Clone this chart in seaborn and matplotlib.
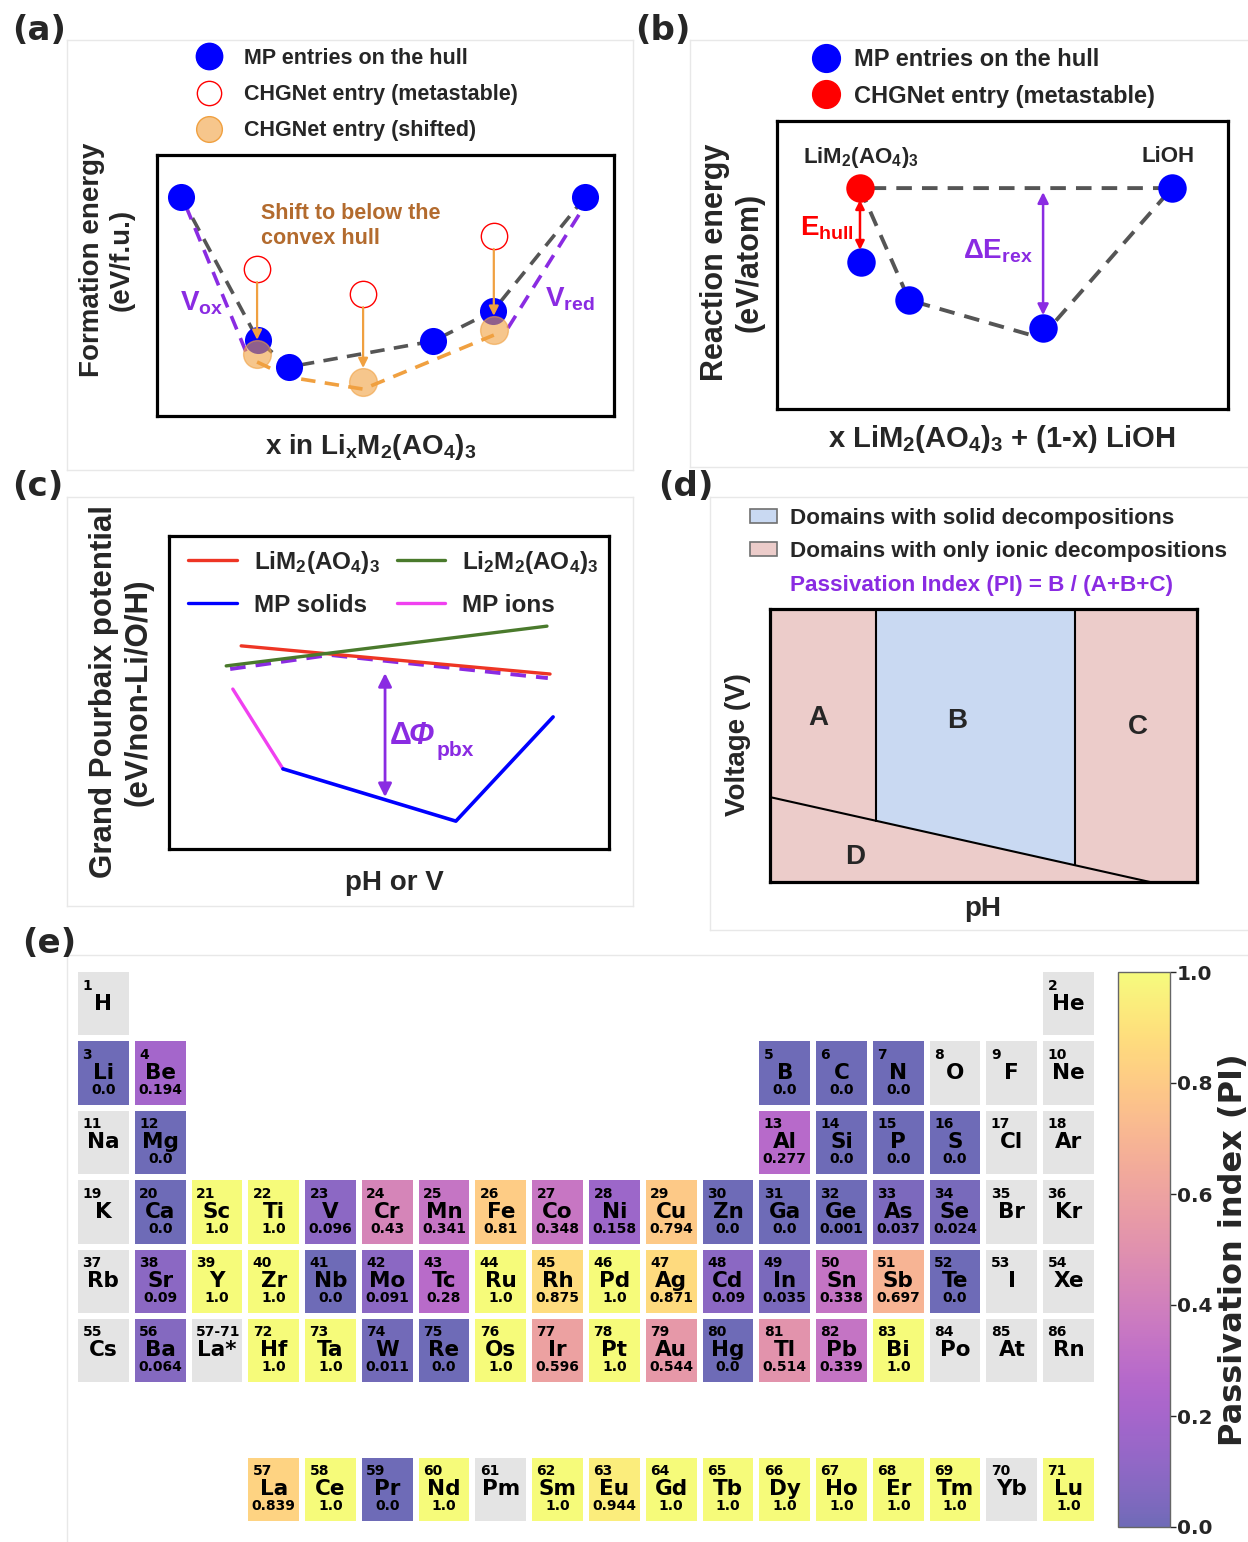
import numpy as np
import pandas as pd
import matplotlib
matplotlib.use("Agg")
import matplotlib.pyplot as plt
from matplotlib.colors import ListedColormap
from matplotlib.lines import Line2D
from matplotlib.patches import Patch
import seaborn as sns

# ---------------- data: panel (a) formation-energy schematic ----------------
a_hull_x = [0.53, 2.21, 2.89, 6.04, 7.35, 9.37]
a_hull_y = [8.39, 2.91, 1.88, 2.87, 4.02, 8.39]
a_meta_x = [2.19, 4.51, 7.37]
a_meta_y = [5.63, 4.67, 6.90]
a_shift_y = [2.38, 1.30, 3.30]
a_newhull_x = [2.19, 2.89, 4.51, 7.37]
a_newhull_y = [2.07, 1.49, 1.03, 3.10]
a_vox_x, a_vox_y = [0.63, 1.95], [8.05, 2.45]
a_vred_x, a_vred_y = [7.68, 9.34], [3.37, 8.01]

# ---------------- data: panel (b) reaction-energy schematic ----------------
b_mp_x = [8.76, 1.86, 2.93, 5.90]
b_mp_y = [7.67, 5.10, 3.78, 2.81]
b_meta_x, b_meta_y = [1.84], [7.67]
b_hull_x = [1.84, 2.93, 5.85, 8.76, 1.84]
b_hull_y = [7.67, 3.78, 2.47, 7.67, 7.67]

# ---------------- data: panel (c) grand Pourbaix schematic ----------------
c_red_x, c_red_y = [1.64, 8.66], [6.49, 5.59]
c_green_x, c_green_y = [1.30, 8.59], [5.85, 7.12]
c_env_x, c_env_y = [1.39, 3.66, 8.61], [5.75, 6.20, 5.46]
c_ion_x, c_ion_y = [1.45, 2.59], [5.11, 2.56]
c_sol_x, c_sol_y = [2.59, 6.52, 8.73], [2.56, 0.89, 4.22]

# ---------------- data: panel (d) domains ----------------
d_ab, d_bc = 2.48, 7.14
d_line_x, d_line_y = [0.0, 8.90], [3.11, 0.0]

# ---------------- data: panel (e) passivation index ----------------
symbols = ["H", "He", "Li", "Be", "B", "C", "N", "O", "F", "Ne",
           "Na", "Mg", "Al", "Si", "P", "S", "Cl", "Ar",
           "K", "Ca", "Sc", "Ti", "V", "Cr", "Mn", "Fe", "Co", "Ni", "Cu", "Zn",
           "Ga", "Ge", "As", "Se", "Br", "Kr",
           "Rb", "Sr", "Y", "Zr", "Nb", "Mo", "Tc", "Ru", "Rh", "Pd", "Ag", "Cd",
           "In", "Sn", "Sb", "Te", "I", "Xe",
           "Cs", "Ba", "La", "Ce", "Pr", "Nd", "Pm", "Sm", "Eu", "Gd", "Tb", "Dy",
           "Ho", "Er", "Tm", "Yb", "Lu", "Hf", "Ta", "W", "Re", "Os", "Ir", "Pt",
           "Au", "Hg", "Tl", "Pb", "Bi", "Po", "At", "Rn"]
pi_values = [None, None, 0.0, 0.194, 0.0, 0.0, 0.0, None, None, None,
             None, 0.0, 0.277, 0.0, 0.0, 0.0, None, None,
             None, 0.0, 1.0, 1.0, 0.096, 0.43, 0.341, 0.81, 0.348, 0.158, 0.794, 0.0,
             0.0, 0.001, 0.037, 0.024, None, None,
             None, 0.09, 1.0, 1.0, 0.0, 0.091, 0.28, 1.0, 0.875, 1.0, 0.871, 0.09,
             0.035, 0.338, 0.697, 0.0, None, None,
             None, 0.064, 0.839, 1.0, 0.0, 1.0, None, 1.0, 0.944, 1.0, 1.0, 1.0,
             1.0, 1.0, 1.0, None, 1.0, 1.0, 1.0, 0.011, 0.0, 1.0, 0.596, 1.0,
             0.544, 0.0, 0.514, 0.339, 1.0, None, None, None]
atomic_numbers = list(range(1, 87))
cbar_ticks = [0.0, 0.2, 0.4, 0.6, 0.8, 1.0]


def table_position(z):
    """(period row, group column) in the standard table layout."""
    if z == 1:
        return 0, 0
    if z == 2:
        return 0, 17
    if z <= 4:
        return 1, z - 3
    if z <= 10:
        return 1, z - 5 + 12
    if z <= 12:
        return 2, z - 11
    if z <= 18:
        return 2, z - 13 + 12
    if z <= 36:
        return 3, z - 19
    if z <= 54:
        return 4, z - 37
    if z <= 56:
        return 5, z - 55
    if z <= 71:
        return 7, z - 57 + 3
    return 5, z - 72 + 3


# ---------------- style ----------------
sns.set_style("white")
plt.rcParams["font.family"] = ["Liberation Sans", "DejaVu Sans"]
plt.rcParams["font.weight"] = "bold"
plt.rcParams["mathtext.fontset"] = "custom"
plt.rcParams["mathtext.rm"] = "Liberation Sans:bold"
plt.rcParams["mathtext.bf"] = "Liberation Sans:bold"
plt.rcParams["mathtext.sf"] = "Liberation Sans:bold"
plt.rcParams["mathtext.it"] = "Liberation Sans:italic:bold"
plt.rcParams["mathtext.default"] = "rm"

BLUE = "#0000FF"
RED = "#FF0000"
ORANGE = "#F0A040"
PURPLE = "#8A2BE2"
GRAY = "#555555"
PINK = "#ECCCCA"
LBLUE = "#C9D9F2"
DASH = (0, (4, 2.6))

# plasma seen through 60 % opacity on white
_pl = plt.get_cmap("plasma")(np.linspace(0, 1, 256))[:, :3]
PI_CMAP = ListedColormap(0.6 * _pl + 0.4)

W, H = 1248, 1542
fig = plt.figure(figsize=(W / 100, H / 100), dpi=100)


def add_ax(x0, y0, x1, y1, **kw):
    return fig.add_axes([x0 / W, 1 - y1 / H, (x1 - x0) / W, (y1 - y0) / H], **kw)


def ftext(x, y, s, **kw):
    return fig.text(x / W, 1 - y / H, s, **kw)


def fxy(x, y):
    return (x / W, 1 - y / H)


def frame(x0, y0, x1, y1, sides=("top", "bottom", "left", "right")):
    f = add_ax(x0, y0, x1, y1, zorder=-5)
    f.set_xticks([]); f.set_yticks([])
    f.patch.set_alpha(0)
    for k, s in f.spines.items():
        s.set_visible(k in sides)
        s.set_color("#e8e8e8")
        s.set_linewidth(1.0)
    return f


def box(ax):
    ax.set_xlim(0, 10); ax.set_ylim(0, 10)
    ax.set_xticks([]); ax.set_yticks([])
    for s in ax.spines.values():
        s.set_visible(True)
        s.set_color("black")
        s.set_linewidth(2.3)


def line(ax, x, y, **kw):
    sns.lineplot(x=x, y=y, sort=False, estimator=None, ax=ax, **kw)


# faint panel frames
frame(67, 40, 633, 470)
frame(690, 40, 1252, 467, sides=("top", "bottom", "left"))
frame(67, 497, 633, 906)
frame(710, 497, 1252, 930, sides=("top", "bottom", "left"))
frame(67, 955, 1252, 1546, sides=("top", "left"))

# panel letters
for lab, (x, y) in {"(a)": (12, 30), "(b)": (635, 30), "(c)": (12, 487),
                    "(d)": (658, 487), "(e)": (22, 943)}.items():
    ftext(x, y, lab, fontsize=24.5, fontweight="bold", family="DejaVu Sans",
          ha="left", va="center")

# ======================= (a) =======================
axa = add_ax(157, 155, 614, 416)
box(axa)
line(axa, a_hull_x, a_hull_y, color=GRAY, lw=2.6, linestyle=DASH, zorder=2)
line(axa, a_vox_x, a_vox_y, color=PURPLE, lw=2.6, linestyle=DASH, zorder=2)
line(axa, a_vred_x, a_vred_y, color=PURPLE, lw=2.6, linestyle=DASH, zorder=2)
line(axa, a_newhull_x, a_newhull_y, color=ORANGE, lw=2.6, linestyle=DASH, zorder=2)
sns.scatterplot(x=a_hull_x, y=a_hull_y, s=380, color=BLUE, edgecolor=BLUE,
                linewidth=0, zorder=4, ax=axa, legend=False)
sns.scatterplot(x=a_meta_x, y=a_meta_y, s=360, color="white", edgecolor=RED,
                linewidth=1.0, zorder=4, ax=axa, legend=False)
sns.scatterplot(x=a_meta_x, y=a_shift_y, s=400, color=ORANGE, edgecolor=ORANGE,
                alpha=0.6, linewidth=1.0, zorder=5, ax=axa, legend=False)
for x, y0, y1 in zip(a_meta_x, a_meta_y, a_shift_y):
    axa.annotate("", xy=(x, y1 + 0.54), xytext=(x, y0 - 0.50),
                 arrowprops=dict(arrowstyle="-|>", color=ORANGE, lw=1.6,
                                 mutation_scale=14, shrinkA=0, shrinkB=0), zorder=6)
axa.text(2.28, 8.16, "Shift to below the\nconvex hull", color="#B36B2E",
         fontsize=15.5, fontweight="bold", ha="left", va="top", linespacing=1.25)
axa.text(0.50, 4.06, r"V$_{ox}$", color=PURPLE, fontsize=20, ha="left", va="baseline")
axa.text(8.49, 4.21, r"V$_{red}$", color=PURPLE, fontsize=20, ha="left", va="baseline")
ha = [Line2D([], [], marker="o", ls="none", markersize=19, mfc=BLUE, mec=BLUE),
      Line2D([], [], marker="o", ls="none", markersize=17.5, mfc="white", mec=RED, mew=1),
      Line2D([], [], marker="o", ls="none", markersize=18.5, mfc=(0.94, 0.63, 0.25, 0.6),
             mec=ORANGE, mew=1)]
axa.legend(ha, ["MP entries on the hull", "CHGNet entry (metastable)",
                "CHGNet entry (shifted)"],
           loc="upper left", bbox_to_anchor=fxy(194, 48), bbox_transform=fig.transFigure,
           frameon=False, borderpad=0, borderaxespad=0, handlelength=1.4,
           handletextpad=0.93, labelspacing=0.7,
           prop={"size": 15.5, "weight": "bold", "family": "Liberation Sans"})
ftext(371, 454, r"x in Li$_{x}$M$_{2}$(AO$_{4}$)$_{3}$", fontsize=20, ha="center",
      va="baseline")
ftext(107, 260, "Formation energy\n(eV/f.u.)", fontsize=20, rotation=90,
      ha="center", va="center", multialignment="center")

# ======================= (b) =======================
axb = add_ax(777, 121, 1228, 409)
box(axb)
line(axb, b_hull_x, b_hull_y, color=GRAY, lw=2.8, linestyle=DASH, zorder=2)
sns.scatterplot(x=b_mp_x, y=b_mp_y, s=420, color=BLUE, edgecolor=BLUE,
                linewidth=0, zorder=4, ax=axb, legend=False)
sns.scatterplot(x=b_meta_x, y=b_meta_y, s=420, color=RED, edgecolor=RED,
                linewidth=0, zorder=4, ax=axb, legend=False)
axb.annotate("", xy=(1.84, 5.52), xytext=(1.84, 7.26),
             arrowprops=dict(arrowstyle="<|-|>", color=RED, lw=1.8, mutation_scale=13,
                             shrinkA=0, shrinkB=0), zorder=5)
axb.annotate("", xy=(5.90, 3.26), xytext=(5.90, 7.53),
             arrowprops=dict(arrowstyle="<|-|>", color=PURPLE, lw=1.8, mutation_scale=16,
                             shrinkA=0, shrinkB=0), zorder=5)
axb.text(0.51, 6.01, r"E$_{hull}$", color=RED, fontsize=20, ha="left", va="baseline")
axb.text(4.12, 5.21, r"ΔE$_{rex}$", color=PURPLE, fontsize=20, ha="left", va="baseline")
axb.text(0.58, 8.54, r"LiM$_{2}$(AO$_{4}$)$_{3}$", fontsize=16, ha="left", va="baseline")
axb.text(8.09, 8.58, "LiOH", fontsize=16, ha="left", va="baseline")
hb = [Line2D([], [], marker="o", ls="none", markersize=20, mfc=BLUE, mec=BLUE),
      Line2D([], [], marker="o", ls="none", markersize=20, mfc=RED, mec=RED)]
axb.legend(hb, ["MP entries on the hull", "CHGNet entry (metastable)"],
           loc="upper left", bbox_to_anchor=fxy(812, 48), bbox_transform=fig.transFigure,
           frameon=False, borderpad=0, borderaxespad=0, handlelength=1.2,
           handletextpad=0.6, labelspacing=0.58,
           prop={"size": 17, "weight": "bold", "family": "Liberation Sans"})
ftext(1002, 447, r"x LiM$_{2}$(AO$_{4}$)$_{3}$ + (1-x) LiOH", fontsize=21,
      ha="center", va="baseline")
ftext(732, 262, "Reaction energy\n(eV/atom)", fontsize=22, rotation=90,
      ha="center", va="center", multialignment="center")

# ======================= (c) =======================
axc = add_ax(169, 536, 609, 849)
box(axc)
line(axc, c_red_x, c_red_y, color="#EE3524", lw=2.4, zorder=3)
line(axc, c_green_x, c_green_y, color="#4A7A2C", lw=2.4, zorder=3)
line(axc, c_env_x, c_env_y, color=PURPLE, lw=2.8, linestyle=DASH, zorder=2)
line(axc, c_ion_x, c_ion_y, color="#F040F0", lw=2.4, zorder=3)
line(axc, c_sol_x, c_sol_y, color=BLUE, lw=2.6, zorder=3)
axc.annotate("", xy=(4.91, 1.66), xytext=(4.91, 5.62),
             arrowprops=dict(arrowstyle="<|-|>", color=PURPLE, lw=2.0, mutation_scale=20,
                             shrinkA=0, shrinkB=0), zorder=5)
ftext(390, 744, "Δ", color=PURPLE, fontsize=22, ha="left", va="baseline")
ftext(409, 744, "Φ", color=PURPLE, fontsize=22, ha="left", va="baseline",
      style="italic")
ftext(437, 756, "pbx", color=PURPLE, fontsize=15, ha="left", va="baseline")
hc = [Line2D([], [], color="#EE3524", lw=2.4), Line2D([], [], color=BLUE, lw=2.4),
      Line2D([], [], color="#4A7A2C", lw=2.4), Line2D([], [], color="#F040F0", lw=2.4)]
axc.legend(hc, [r"LiM$_{2}$(AO$_{4}$)$_{3}$", "MP solids",
                r"Li$_{2}$M$_{2}$(AO$_{4}$)$_{3}$", "MP ions"], ncol=2,
           loc="upper left", bbox_to_anchor=fxy(188, 549), bbox_transform=fig.transFigure,
           frameon=False, borderpad=0, borderaxespad=0, handlelength=2.0,
           handletextpad=0.7, labelspacing=0.72, columnspacing=0.7,
           prop={"size": 17.5, "weight": "bold", "family": "Liberation Sans"})
ftext(394, 890, "pH or V", fontsize=20, ha="center", va="baseline")
ftext(121, 692, "Grand Pourbaix potential\n(eV/non-Li/O/H)", fontsize=22.5,
      rotation=90, ha="center", va="center", multialignment="center")

# ======================= (d) =======================
axd = add_ax(770, 609, 1197, 882)
box(axd)
axd.fill_between([0, 10], 0, 10, color=PINK, lw=0, zorder=0)
bx = np.array([d_ab, d_bc])
by = np.interp(bx, d_line_x, d_line_y)
axd.fill_between(bx, by, 10, color=LBLUE, lw=0, zorder=1)
line(axd, d_line_x, d_line_y, color="black", lw=1.5, zorder=3)
line(axd, [d_ab, d_ab], [by[0], 10], color="black", lw=1.5, zorder=3)
line(axd, [d_bc, d_bc], [by[1], 10], color="black", lw=1.5, zorder=3)
for s, (x, y) in {"A": (1.12, 6.01), "B": (4.38, 5.90), "C": (8.62, 5.68),
                  "D": (1.99, 0.92)}.items():
    axd.text(x, y, s, fontsize=20, ha="center", va="center")
hd = [Patch(facecolor=LBLUE, edgecolor="#707070", lw=1.2),
      Patch(facecolor=PINK, edgecolor="#707070", lw=1.2)]
axd.legend(hd, ["Domains with solid decompositions",
                "Domains with only ionic decompositions"],
           loc="upper left", bbox_to_anchor=fxy(750, 508), bbox_transform=fig.transFigure,
           frameon=False, borderpad=0, borderaxespad=0, handlelength=1.2,
           handleheight=0.55, handletextpad=0.58, labelspacing=0.52,
           prop={"size": 16.2, "weight": "bold", "family": "Liberation Sans"})
ftext(790, 586, "Passivation Index (PI) = B / (A+B+C)", color=PURPLE, fontsize=16.2,
      ha="left", va="center")
ftext(983, 909, "pH", fontsize=20, ha="center", va="center")
ftext(738, 745, "Voltage (V)", fontsize=20, rotation=90, ha="center", va="center")

# ======================= (e) =======================
grid_val = np.full((8, 18), np.nan)
grid_gray = np.full((8, 18), np.nan)
for z, v in zip(atomic_numbers, pi_values):
    r, c = table_position(z)
    if v is None:
        grid_gray[r, c] = 1.0
    else:
        grid_val[r, c] = v
grid_gray[5, 2] = 1.0  # La* placeholder

axe = add_ax(75, 969, 1097, 1524)
cax = add_ax(1118, 972, 1170, 1527)
sns.heatmap(grid_gray, mask=np.isnan(grid_gray), cmap=ListedColormap(["#e4e4e4"]),
            vmin=0, vmax=2, cbar=False, linewidths=4.3, linecolor="white",
            xticklabels=False, yticklabels=False, ax=axe)
sns.heatmap(grid_val, mask=np.isnan(grid_val), cmap=PI_CMAP, vmin=0, vmax=1,
            linewidths=4.3, linecolor="white", xticklabels=False,
            yticklabels=False, ax=axe, cbar_ax=cax, cbar_kws={"ticks": cbar_ticks})
for s in axe.spines.values():
    s.set_visible(False)

tfont = dict(family="DejaVu Sans", fontweight="bold", color="black")
entries = list(zip(atomic_numbers, symbols, pi_values)) + [("57-71", "La*", None)]
for z, sym, v in entries:
    r, c = (5, 2) if z == "57-71" else table_position(z)
    axe.text(c + 0.13, r + 0.297, str(z), ha="left", va="baseline", fontsize=10, **tfont)
    axe.text(c + 0.5, r + 0.585, sym, ha="center", va="baseline", fontsize=15.5, **tfont)
    if v is not None:
        axe.text(c + 0.5, r + 0.80, str(v), ha="center", va="baseline", fontsize=10,
                 **tfont)

cb = axe.collections[-1].colorbar
cb.outline.set_linewidth(1.0)
cb.outline.set_edgecolor("#666666")
cax.tick_params(length=4, width=1, labelsize=14.5, pad=1)
cax.set_yticklabels([f"{t:.1f}" for t in cbar_ticks], fontweight="bold",
                    family="DejaVu Sans")
cax.set_ylabel("Passivation index (PI)", fontsize=23, fontweight="bold",
               family="DejaVu Sans", labelpad=4)

fig.savefig("out.png", dpi=100)
